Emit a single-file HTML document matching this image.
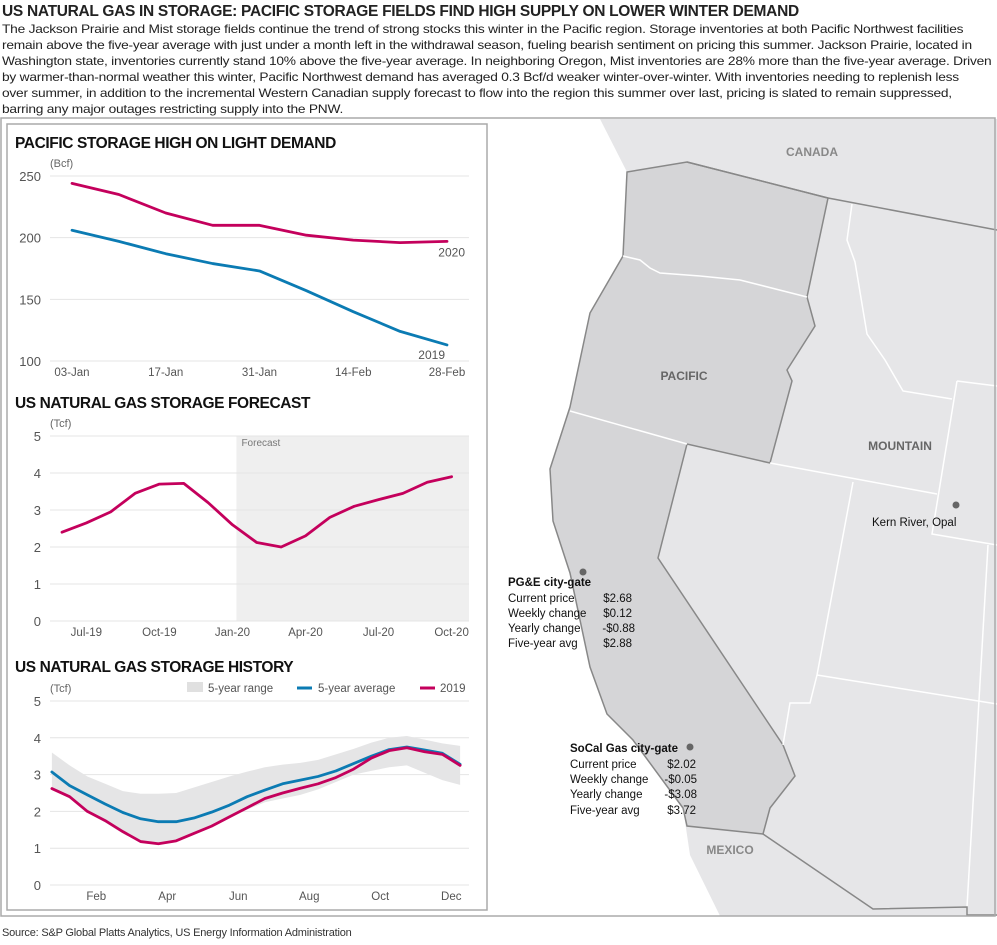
<!DOCTYPE html>
<html><head><meta charset="utf-8">
<style>
body{margin:0;width:997px;height:945px;background:#fff;font-family:"Liberation Sans",sans-serif;position:relative;overflow:hidden;color:#222}
#title{position:absolute;left:2px;top:3px;font-size:15.5px;font-weight:bold;letter-spacing:-0.3px;white-space:nowrap}
#para{position:absolute;left:2px;top:21px;font-size:12px;line-height:16px;letter-spacing:-0.2px;white-space:nowrap;color:#222;transform:scaleX(1.145);transform-origin:0 0}
#source{position:absolute;left:2px;top:927px;font-size:11px;color:#333;letter-spacing:-0.2px}
svg text{font-family:"Liberation Sans",sans-serif}
</style></head><body>
<div id="title">US NATURAL GAS IN STORAGE: PACIFIC STORAGE FIELDS FIND HIGH SUPPLY ON LOWER WINTER DEMAND</div>
<div id="para">The Jackson Prairie and Mist storage fields continue the trend of strong stocks this winter in the Pacific region. Storage inventories at both Pacific Northwest facilities<br>remain above the five-year average with just under a month left in the withdrawal season, fueling bearish sentiment on pricing this summer. Jackson Prairie, located in<br>Washington state, inventories currently stand 10% above the five-year average. In neighboring Oregon, Mist inventories are 28% more than the five-year average. Driven<br>by warmer-than-normal weather this winter, Pacific Northwest demand has averaged 0.3 Bcf/d weaker winter-over-winter. With inventories needing to replenish less<br>over summer, in addition to the incremental Western Canadian supply forecast to flow into the region this summer over last, pricing is slated to remain suppressed,<br>barring any major outages restricting supply into the PNW.</div>

<svg id="main" width="997" height="945" style="position:absolute;left:0;top:0" xmlns="http://www.w3.org/2000/svg">
<defs><clipPath id="mapclip"><rect x="488" y="119" width="509" height="797"/></clipPath></defs>
<g id="map" clip-path="url(#mapclip)">
 <polygon fill="#e6e6e8" points="600,119 627,172 623,256 590,313 570,407 550,469 553,521 570,573 590,667 607,714 633,740 683,808 690,855 723,922 997,922 997,119"/>
 <polygon fill="#d5d5d7" stroke="#888" stroke-width="1.5" points="627,172 623,256 590,313 570,407 550,469 553,521 570,573 590,667 607,714 633,740 683,808 687,826 763,834 770,808 795,776 783,745 658,558 687,444 770,463 792,381 787,370 815,326 807,297 828,198 687,162"/>
 <g fill="none" stroke="#fff" stroke-width="1.5">
  <polyline points="623,256 640,260 650,268 660,273 700,276 740,280 807,297"/>
  <polyline points="570,411 687,444"/>
  <polyline points="852,204 847,240 855,262 867,334 885,360 903,391 952,399"/>
  <polyline points="770,463 937,494"/>
  <polyline points="957,381 997,386"/>
  <polyline points="957,381 932,534 997,545"/>
  <polyline points="853,482 817,675 810,703 790,703 783,745"/>
  <polyline points="817,675 997,704"/>
  <polyline points="988,545 967,907"/>
 </g>
 <polyline fill="none" stroke="#888" stroke-width="1.5" points="687,162 828,198 997,230"/>
 <polyline fill="none" stroke="#888" stroke-width="1.5" points="763,834 873,909 967,907 967,915 997,915"/>
 <text x="812" y="156" font-size="12" font-weight="bold" fill="#888" text-anchor="middle">CANADA</text>
 <text x="684" y="380" font-size="12" font-weight="bold" fill="#666" text-anchor="middle">PACIFIC</text>
 <text x="900" y="450" font-size="12" font-weight="bold" fill="#666" text-anchor="middle">MOUNTAIN</text>
 <text x="730" y="854" font-size="12" font-weight="bold" fill="#888" text-anchor="middle">MEXICO</text>
 <circle cx="956" cy="505" r="3.5" fill="#666"/>
 <text x="872" y="526" font-size="11.5" fill="#111">Kern River, Opal</text>
 <circle cx="583" cy="572" r="3.5" fill="#666"/>
 <g font-size="11.5" fill="#111">
  <text x="508" y="586" font-weight="bold">PG&amp;E city-gate</text>
  <text x="508" y="602">Current price</text><text x="632" y="602" text-anchor="end">$2.68</text>
  <text x="508" y="617">Weekly change</text><text x="632" y="617" text-anchor="end">$0.12</text>
  <text x="508" y="632">Yearly change</text><text x="635" y="632" text-anchor="end">-$0.88</text>
  <text x="508" y="647">Five-year avg</text><text x="632" y="647" text-anchor="end">$2.88</text>
 </g>
 <circle cx="690" cy="747" r="3.5" fill="#666"/>
 <g font-size="11.5" fill="#111">
  <text x="570" y="752" font-weight="bold">SoCal Gas city-gate</text>
  <text x="570" y="768">Current price</text><text x="696" y="768" text-anchor="end">$2.02</text>
  <text x="570" y="783">Weekly change</text><text x="697" y="783" text-anchor="end">-$0.05</text>
  <text x="570" y="798">Yearly change</text><text x="697" y="798" text-anchor="end">-$3.08</text>
  <text x="570" y="814">Five-year avg</text><text x="696" y="814" text-anchor="end">$3.72</text>
 </g>
</g>
<rect x="1" y="118" width="994" height="798" fill="none" stroke="#aaa" stroke-width="1.5"/>
<rect x="7" y="124" width="480" height="786" fill="#fff" stroke="#aaa" stroke-width="1.5"/>

<g id="c1"></g>
<g id="c2"></g>
<g id="c3"></g>
</svg>
<div id="source">Source: S&amp;P Global Platts Analytics, US Energy Information Administration</div>

<script>
// Chart 1 data
const c1Cats = ["03-Jan","10-Jan","17-Jan","24-Jan","31-Jan","07-Feb","14-Feb","21-Feb","28-Feb"];
const c1Values2020 = [244,235,220,210,210,202,198,196,197];
const c1Values2019 = [206,197,187,179,173,157,140,124,113];
const c1Ticks = [100,150,200,250];
const c1XLabels = ["03-Jan","17-Jan","31-Jan","14-Feb","28-Feb"];
// Chart 2 data
const c2Months = ["Jun-19","Jul-19","Aug-19","Sep-19","Oct-19","Nov-19","Dec-19","Jan-20","Feb-20","Mar-20","Apr-20","May-20","Jun-20","Jul-20","Aug-20","Sep-20","Oct-20"];
const c2Values = [2.4,2.65,2.95,3.45,3.7,3.72,3.2,2.6,2.12,2.0,2.3,2.8,3.1,3.28,3.45,3.75,3.9];
const c2Ticks = [0,1,2,3,4,5];
const c2XLabels = ["Jul-19","Oct-19","Jan-20","Apr-20","Jul-20","Oct-20"];
const c2ForecastStart = "Jan-20";
// Chart 3 data (month index, 0 = Jan 1)
const c3Months = [0.25,0.75,1.25,1.75,2.25,2.75,3.25,3.75,4.25,4.75,5.25,5.75,6.25,6.75,7.25,7.75,8.25,8.75,9.25,9.75,10.25,10.75,11.25,11.75];
const c3Avg = [3.07,2.7,2.45,2.2,1.97,1.8,1.72,1.72,1.82,1.98,2.17,2.4,2.58,2.75,2.85,2.95,3.1,3.3,3.5,3.68,3.75,3.67,3.58,3.28];
const c3Y2019 = [2.62,2.4,2.0,1.75,1.45,1.18,1.12,1.2,1.4,1.6,1.85,2.1,2.35,2.5,2.63,2.75,2.92,3.15,3.45,3.65,3.73,3.62,3.55,3.25];
const c3High = [3.6,3.25,2.95,2.75,2.55,2.48,2.48,2.5,2.65,2.8,2.95,3.08,3.2,3.27,3.32,3.4,3.55,3.7,3.87,4.0,4.05,3.95,3.85,3.78];
const c3Low = [2.6,2.35,2.0,1.7,1.4,1.15,1.1,1.2,1.4,1.6,1.85,2.05,2.25,2.35,2.45,2.6,2.8,3.0,3.1,3.2,3.25,3.05,2.85,2.72];
const c3Ticks = [0,1,2,3,4,5];
const c3XLabels = ["Feb","Apr","Jun","Aug","Oct","Dec"];
const c3XLabelMonths = [1.5,3.5,5.5,7.5,9.5,11.5];

const NS="http://www.w3.org/2000/svg";
const PINK="#c4005c", BLUE="#0b7bb3";
function mk(parent,tag,attrs,text){const e=document.createElementNS(NS,tag);for(const k in attrs)e.setAttribute(k,attrs[k]);if(text!==undefined)e.textContent=text;parent.appendChild(e);return e;}
function axes(g,ticks,y,unit,unitY,titleText,titleY){
  const t=mk(g,"text",{x:15,y:titleY,"font-size":"15.5","font-weight":"bold",fill:"#111","letter-spacing":"-0.4"},titleText);
  
  
  const u=mk(g,"text",{x:50,y:unitY,"font-size":"11",fill:"#666"},unit);
  
  
  ticks.forEach(v=>{
    const l=mk(g,"line",{x1:50,x2:469,y1:y(v),y2:y(v),stroke:"#e4e4e4","stroke-width":1});
    
    
    const tx=mk(g,"text",{x:41,y:y(v)+5,"font-size":"13",fill:"#555","text-anchor":"end"},v);
    
    
  });
}
function line(g,xs,ys,color,name){
  const p=mk(g,"polyline",{points:xs.map((x,i)=>x+","+ys[i]).join(" "),fill:"none",stroke:color,"stroke-width":2.8,"stroke-linejoin":"round","stroke-linecap":"round"});
  
  
}
// Chart 1
(function(){
  const g=document.getElementById("c1");
  const y=v=>361-(v-100)*(185/150);
  const x=i=>72+i*(375/(c1Cats.length-1));
  axes(g,c1Ticks,y,"(Bcf)",167,"PACIFIC STORAGE HIGH ON LIGHT DEMAND",148);
  c1XLabels.forEach(l=>{const i=c1Cats.indexOf(l);
    const t=mk(g,"text",{x:x(i),y:376,"font-size":"11.5",fill:"#555","text-anchor":"middle"},l);
    
    });
  line(g,c1Cats.map((c,i)=>x(i)),c1Values2019.map(y),BLUE,"line-2019");
  line(g,c1Cats.map((c,i)=>x(i)),c1Values2020.map(y),PINK,"line-2020");
  const n=c1Cats.length-1;
  const a=mk(g,"text",{x:465,y:y(c1Values2020[n])+15,"font-size":"12",fill:"#555","text-anchor":"end"},"2020");
  
  
  const b=mk(g,"text",{x:445,y:y(c1Values2019[n])+14,"font-size":"12",fill:"#555","text-anchor":"end"},"2019");
  
  
})();
// Chart 2
(function(){
  const g=document.getElementById("c2");
  const y=v=>621-v*37;
  const x=i=>62+i*24.35;
  const fi=c2Months.indexOf(c2ForecastStart);
  const r=mk(g,"rect",{x:x(fi)+4,y:y(5),width:469-x(fi)-4,height:y(0)-y(5),fill:"#efefef"});
  
  
  axes(g,c2Ticks,y,"(Tcf)",427,"US NATURAL GAS STORAGE FORECAST",408);
  const f=mk(g,"text",{x:x(fi)+9,y:y(5)+10,"font-size":"10",fill:"#777"},"Forecast");
  
  
  c2XLabels.forEach(l=>{const i=c2Months.indexOf(l);
    const t=mk(g,"text",{x:x(i),y:636,"font-size":"11.5",fill:"#555","text-anchor":"middle"},l);
    
    });
  line(g,c2Months.map((c,i)=>x(i)),c2Values.map(y),PINK,"storage-forecast-line");
})();
// Chart 3
(function(){
  const g=document.getElementById("c3");
  const y=v=>885-v*36.8;
  const x=m=>43+m*35.5;
  const band=c3Months.map((m,i)=>x(m)+","+y(c3High[i])).concat(c3Months.map((m,i)=>x(m)+","+y(c3Low[i])).reverse()).join(" ");
  const p=mk(g,"polygon",{points:band,fill:"#e5e5e6"});
  
  
  axes(g,c3Ticks,y,"(Tcf)",692,"US NATURAL GAS STORAGE HISTORY",672);
  g.appendChild(p);
  c3XLabels.forEach((l,i)=>{
    const t=mk(g,"text",{x:x(c3XLabelMonths[i]),y:900,"font-size":"11.5",fill:"#555","text-anchor":"middle"},l);
    
    });
  line(g,c3Months.map(x),c3Avg.map(y),BLUE,"five-year-average-line");
  line(g,c3Months.map(x),c3Y2019.map(y),PINK,"line-2019");
  const lg=mk(g,"g",{});
  
  
  mk(lg,"rect",{x:187,y:682,width:16,height:10,fill:"#e0e0e0"});
  mk(lg,"text",{x:208,y:692,"font-size":"11.5",fill:"#555"},"5-year range");
  mk(lg,"line",{x1:297,x2:312,y1:688,y2:688,stroke:BLUE,"stroke-width":3});
  mk(lg,"text",{x:318,y:692,"font-size":"11.5",fill:"#555"},"5-year average");
  mk(lg,"line",{x1:420,x2:435,y1:688,y2:688,stroke:PINK,"stroke-width":3});
  mk(lg,"text",{x:440,y:692,"font-size":"11.5",fill:"#555"},"2019");
})();
</script>
</body></html>
